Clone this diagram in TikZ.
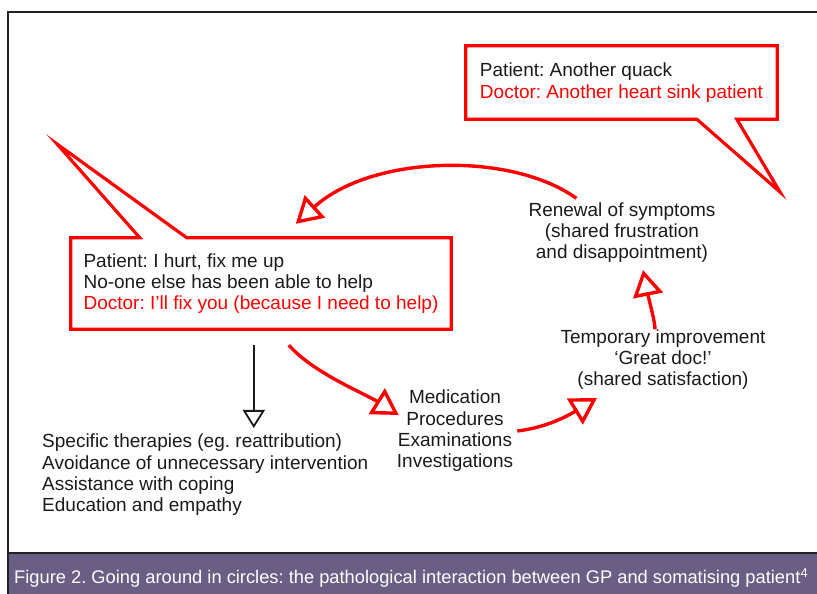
\documentclass[tikz,border=0pt]{standalone}
\usepackage{fontspec}
\setmainfont{Liberation Sans}
\usepackage{xcolor}
\usepackage{tikz}
\usetikzlibrary{arrows.meta,calc}
\definecolor{ink}{HTML}{1A1A1A}
\definecolor{cred}{HTML}{FF0000}
\definecolor{band}{HTML}{6A5E84}
\definecolor{frame}{HTML}{222222}
\newcommand{\bodysz}{\fontsize{19}{21.3}\selectfont}
\frenchspacing
\tikzset{
  every node/.style={text=ink},
  % callout boxes: the outline is drawn afterwards as one path with its tail
  saybox/.style={align=left, inner sep=0pt, font=\bodysz},
  bubble/.style={draw=cred, line width=3.2pt, line join=miter},
  stage/.style={align=center, inner sep=0pt, font=\bodysz},
  redarr/.style={-{Triangle[open, length=26pt, width=30pt]}, draw=cred, line width=3.4pt},
  blkarr/.style={-{Triangle[open, length=18pt, width=22pt]}, draw=ink, line width=1.8pt},
}
\begin{document}
\begin{tikzpicture}[x=1pt,y=1pt]
  \useasboundingbox (0,0) rectangle (817,594);

  % frame and caption band
  \fill[band] (8,0) rectangle (817,41);
  \draw[frame, line width=1.2pt] (8,0) -- (8,582) -- (817,582);
  \draw[frame, line width=1.2pt] (8,41) -- (817,41);
  \node[anchor=base west, text=white, inner sep=0pt, font=\fontsize{18.3}{20}\selectfont]
    (caption) at (14,10)
    {Figure 2. Going around in circles: the pathological interaction between GP and somatising patient\textsuperscript{4}};

  % callouts
  \node[saybox, minimum width=311pt, minimum height=73pt] (quackbox) at (621.5,511.5)
    {Patient: Another quack\\\textcolor{cred}{Doctor: Another heart sink patient}};
  \coordinate (quacktip) at (780,402);
  \draw[bubble] (quackbox.north west) -- (quackbox.north east) -- (quackbox.south east)
    -- ([xshift=271pt]quackbox.south west) -- (quacktip)
    -- ([xshift=231pt]quackbox.south west) -- (quackbox.south west) -- cycle;

  \node[saybox, minimum width=380pt, minimum height=91pt] (patbox) at (261,310.5)
    {Patient: I hurt, fix me up\\No-one else has been able to help\\
     \textcolor{cred}{Doctor: I’ll fix you (because I need to help)}};
  \coordinate (pattip) at (57,450);
  \draw[bubble] (patbox.north west) -- ([xshift=69pt]patbox.north west) -- (pattip)
    -- ([xshift=116pt]patbox.north west) -- (patbox.north east) -- (patbox.south east)
    -- (patbox.south west) -- cycle;

  % stages of the cycle
  \node[stage] (renewal) at (622,361.3)
    {Renewal of symptoms\\(shared frustration\\and disappointment)};
  \node[stage] (improve) at (663,234.3)
    {Temporary improvement\\‘Great doc!’\\(shared satisfaction)};
  \node[stage] (procs) at (455,163)
    {Medication\\Procedures\\Examinations\\Investigations};
  \node[stage, align=left, anchor=west] (advice) at (42,119)
    {Specific therapies (eg. reattribution)\\Avoidance of unnecessary intervention\\
     Assistance with coping\\Education and empathy};

  % the circle
  \draw[redarr] ($(patbox.south west)+(218,-16)$) .. controls +(25,-28) and +(-35,22)
    .. ($(procs.west)+(2,16)$);
  \draw[redarr] ([xshift=4pt]procs.east) .. controls +(25,3) and +(-34.5,-21)
    .. ($(improve.south)+(-66,-8)$);
  \draw[redarr] ([xshift=-8pt]improve.north) .. controls +(0,8) and +(6,-30)
    .. ([xshift=21pt,yshift=-7pt]renewal.south);
  \draw[redarr] ($(renewal.north west)+(48,4)$) .. controls +(-65,47) and +(76,69)
    .. ($(patbox.north west)+(225,14)$);

  % the way out
  \draw[blkarr] (patbox.south west) ++(183,-16) coordinate (fixdown)
    -- ([yshift=6pt]fixdown |- advice.north);
\end{tikzpicture}
\end{document}
